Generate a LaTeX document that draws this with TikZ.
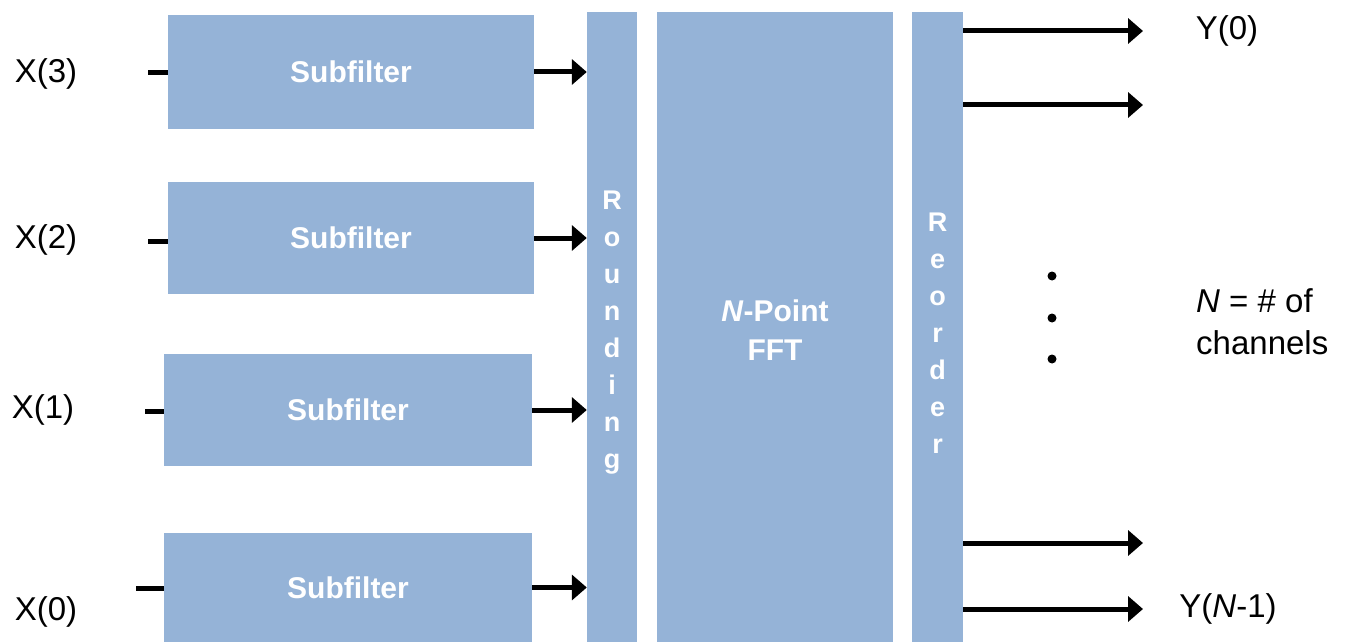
\documentclass[tikz,border=0pt]{standalone}
\usepackage{fontspec}
\setmainfont{Liberation Sans}
\usetikzlibrary{arrows.meta}
\definecolor{boxblue}{HTML}{95B3D7}
\begin{document}
\begin{tikzpicture}[x=1pt,y=-1pt,
  blk/.style={fill=boxblue, draw=none, inner sep=0pt, text=white,
              font=\fontsize{30}{39}\selectfont\bfseries, align=center},
  bar/.style={blk, font=\fontsize{27}{37}\selectfont\bfseries},
  lbl/.style={font=\fontsize{33}{42}\selectfont, inner sep=0pt},
  conn/.style={line width=5pt, -{Triangle[length=15pt,width=25pt]}},
  stub/.style={line width=5pt},
  dotnode/.style={circle, fill=black, inner sep=0pt, minimum size=9pt}]
\useasboundingbox (0,0) rectangle (1345,642);

% subfilters
\node[blk, minimum width=366pt, minimum height=114pt] (s3) at (351,72) {Subfilter};
\node[blk, minimum width=366pt, minimum height=112pt] (s2) at (351,238) {Subfilter};
\node[blk, minimum width=368pt, minimum height=112pt] (s1) at (348,410) {Subfilter};
\node[blk, minimum width=368pt, minimum height=109pt] (s0) at (348,587.5) {Subfilter};

% bars (extend past the lower page edge, which cuts them)
\node[bar, minimum width=50pt, minimum height=642pt] (rnd) at (612,333) {R\\o\\u\\n\\d\\i\\n\\g};
\node[blk, minimum width=236pt, minimum height=636pt] (fft) at (775,330) {\textit{N}-Point\\FFT};
\node[bar, minimum width=51pt, minimum height=642pt] (ro) at (937.5,333) {R\\e\\o\\r\\d\\e\\r};

% input labels and stubs
\node[lbl] (x3) at (46,74) {X(3)};
\node[lbl] (x2) at (46,240) {X(2)};
\node[lbl] (x1) at (43,410) {X(1)};
\node[lbl] (x0) at (46,612) {X(0)};
\coordinate (i3) at (148,73);
\coordinate (i2) at (148,241);
\coordinate (i1) at (145,411);
\coordinate (i0) at (136,588);
\draw[stub] (i3) -- (i3 -| s3.west);
\draw[stub] (i2) -- (i2 -| s2.west);
\draw[stub] (i1) -- (i1 -| s1.west);
\draw[stub] (i0) -- (i0 -| s0.west);

% subfilter -> rounding
\draw[conn] (s3.east) -- (s3.east -| rnd.west);
\draw[conn] (s2.east) -- (s2.east -| rnd.west);
\draw[conn] (s1.east) -- (s1.east -| rnd.west);
\draw[conn] (s0.east) -- (s0.east -| rnd.west);

% outputs
\coordinate (o0) at (1143,31);
\coordinate (o1) at (1143,105);
\coordinate (o2) at (1143,543);
\coordinate (o3) at (1143,609);
\draw[conn] (o0 -| ro.east) -- (o0);
\draw[conn] (o1 -| ro.east) -- (o1);
\draw[conn] (o2 -| ro.east) -- (o2);
\draw[conn] (o3 -| ro.east) -- (o3);

\node[lbl] (y0) at (1227,31) {Y(0)};
\node[lbl] (yn) at (1228,609) {Y(\textit{N}-1)};

% dots
\node[dotnode] (d1) at (1052,276) {};
\node[dotnode] (d2) at (1052,318) {};
\node[dotnode] (d3) at (1052,359) {};

\node[lbl, align=left, anchor=west] (note) at (1196,322) {\textit{N} = \# of\\channels};
\end{tikzpicture}
\end{document}
